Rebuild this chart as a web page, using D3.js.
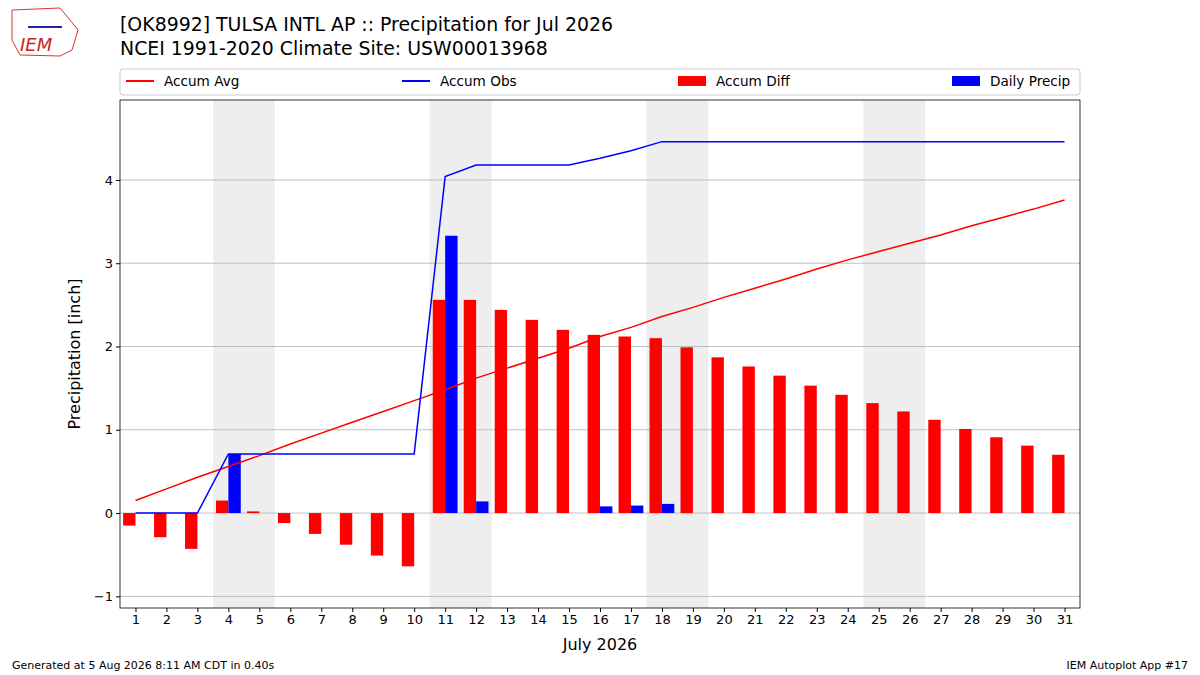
<!DOCTYPE html>
<html><head><meta charset="utf-8">
<script src="https://cdn.jsdelivr.net/npm/d3@7"></script>
<style>body{margin:0;background:#fff}text{font-family:"DejaVu Sans",sans-serif}</style>
</head><body><svg id="c" width="1200" height="675"></svg>
<script>
const days = d3.range(1, 32)
const accumAvg = [0.15,0.29,0.43,0.56,0.69,0.83,0.96,1.09,1.22,1.35,1.48,1.62,1.74,1.86,1.98,2.12,2.23,2.36,2.47,2.59,2.70,2.81,2.93,3.04,3.14,3.24,3.34,3.45,3.55,3.65,3.76]
const accumObs = [0,0,0,0.71,0.71,0.71,0.71,0.71,0.71,0.71,4.04,4.18,4.18,4.18,4.18,4.26,4.35,4.46,4.46,4.46,4.46,4.46,4.46,4.46,4.46,4.46,4.46,4.46,4.46,4.46,4.46]
const accumDiff = [-0.15,-0.29,-0.43,0.15,0.02,-0.12,-0.25,-0.38,-0.51,-0.64,2.56,2.56,2.44,2.32,2.20,2.14,2.12,2.10,1.99,1.87,1.76,1.65,1.53,1.42,1.32,1.22,1.12,1.01,0.91,0.81,0.70]
const dailyPrecip = [0,0,0,0.71,0,0,0,0,0,0,3.33,0.14,0,0,0,0.08,0.09,0.11,0,0,0,0,0,0,0,0,0,0,0,0,0]
const weekends = [4, 11, 18, 25]
const yTicks = [-1, 0, 1, 2, 3, 4]

const svg = d3.select('#c')
const L = 120, R = 1080, T = 100, B = 608
const x = d3.scaleLinear().domain([0.5, 31.5]).range([L, R])
const y = d3.scaleLinear().domain([-1.14, 4.96]).range([B, T])
const bw = x(1.4) - x(1)

// weekend shading
svg.selectAll('.wk').data(weekends).join('rect')
  .attr('x', d => x(d - 0.5)).attr('y', T)
  .attr('width', x(2) - x(0)).attr('height', B - T).attr('fill', '#eeeeee')

// grid
svg.append('g').selectAll('line').data(yTicks).join('line')
  .attr('x1', L).attr('x2', R).attr('y1', d => y(d)).attr('y2', d => y(d))
  .attr('stroke', '#b0b0b0').attr('stroke-width', 0.8)

svg.append('g').selectAll('rect').data(days).join('rect')
  .attr('x', d => x(d) - bw).attr('width', bw)
  .attr('y', (d, i) => y(Math.max(0, accumDiff[i])))
  .attr('height', (d, i) => Math.abs(y(accumDiff[i]) - y(0)))
  .attr('fill', 'red')

svg.append('g').selectAll('rect').data(days).join('rect')
  .attr('x', d => x(d)).attr('width', bw)
  .attr('y', (d, i) => y(dailyPrecip[i]))
  .attr('height', (d, i) => y(0) - y(dailyPrecip[i]))
  .attr('fill', 'blue')

const line = arr => d3.line().x((d, i) => x(days[i])).y(d => y(d))(arr)
svg.append('path').attr('d', line(accumAvg)).attr('fill', 'none').attr('stroke', 'red').attr('stroke-width', 1.5)
svg.append('path').attr('d', line(accumObs)).attr('fill', 'none').attr('stroke', 'blue').attr('stroke-width', 1.5)

// axes
svg.append('rect').attr('x', L).attr('y', T).attr('width', R - L).attr('height', B - T)
  .attr('fill', 'none').attr('stroke', '#000').attr('stroke-width', 0.8)
const xa = svg.append('g').attr('transform', `translate(0,${B})`)
  .call(d3.axisBottom(x).tickValues(days).tickSize(4).tickFormat(d3.format('d')))
const ya = svg.append('g').attr('transform', `translate(${L},0)`)
  .call(d3.axisLeft(y).tickValues(yTicks).tickSize(4).tickFormat(d => d < 0 ? '\u2212' + (-d) : d))
for (const a of [xa, ya]) {
  a.select('.domain').remove()
  a.selectAll('text').attr('font-size', 13).attr('fill', '#000')
}
svg.append('text').attr('x', 600).attr('y', 650).attr('text-anchor', 'middle').attr('font-size', 16).text('July 2026')
svg.append('text').attr('transform', 'translate(80,354) rotate(-90)').attr('text-anchor', 'middle').attr('font-size', 16).text('Precipitation [inch]')

// titles
svg.append('text').attr('x', 120).attr('y', 31).attr('font-size', 18.9).text('[OK8992] TULSA INTL AP :: Precipitation for Jul 2026')
svg.append('text').attr('x', 120).attr('y', 55).attr('font-size', 18.9).text('NCEI 1991-2020 Climate Site: USW00013968')

// legend
svg.append('rect').attr('x', 120).attr('y', 69).attr('width', 960).attr('height', 26).attr('rx', 3)
  .attr('fill', '#fff').attr('stroke', '#ccc')
const leg = [
  { t: 'Accum Avg', c: 'red', k: 'line', x: 126 },
  { t: 'Accum Obs', c: 'blue', k: 'line', x: 402 },
  { t: 'Accum Diff', c: 'red', k: 'box', x: 678 },
  { t: 'Daily Precip', c: 'blue', k: 'box', x: 952 }
]
leg.forEach(l => {
  if (l.k === 'line') svg.append('line').attr('x1', l.x).attr('x2', l.x + 28).attr('y1', 81).attr('y2', 81).attr('stroke', l.c).attr('stroke-width', 2)
  else svg.append('rect').attr('x', l.x).attr('y', 76).attr('width', 28).attr('height', 10).attr('fill', l.c)
  svg.append('text').attr('x', l.x + 38).attr('y', 86).attr('font-size', 13.6).text(l.t)
})

// logo
svg.append('path').attr('d', 'M12,10 L60,8 L70,20 L78,30 L72,50 L60,56 L20,55 L12,40 Z')
  .attr('fill', '#fff').attr('stroke', '#d33').attr('stroke-width', 1)
svg.append('text').attr('x', 20).attr('y', 51).attr('font-size', 18).attr('font-style', 'italic')
  .attr('font-family', 'Liberation Serif').attr('fill', '#c22').text('IEM')
svg.append('line').attr('x1', 28).attr('x2', 62).attr('y1', 27).attr('y2', 27).attr('stroke', '#22a').attr('stroke-width', 2)

// footer
svg.append('text').attr('x', 12).attr('y', 669).attr('font-size', 11).text('Generated at 5 Aug 2026 8:11 AM CDT in 0.40s')
svg.append('text').attr('x', 1188).attr('y', 669).attr('text-anchor', 'end').attr('font-size', 11).text('IEM Autoplot App #17')
</script></body></html>
